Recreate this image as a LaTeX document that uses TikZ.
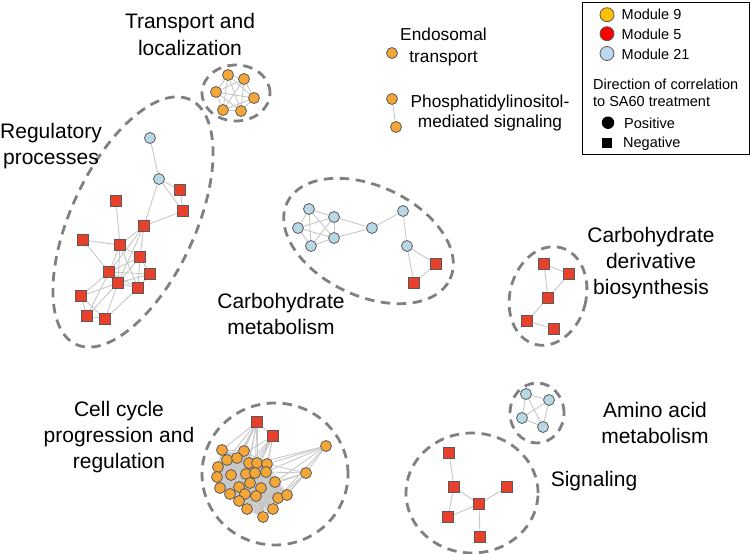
\documentclass[tikz,border=0pt]{standalone}
\usepackage{fontspec}
\setmainfont{Liberation Sans}
\usetikzlibrary{backgrounds}
\definecolor{cOr}{HTML}{F4A637}
\definecolor{cRd}{HTML}{E8402A}
\definecolor{cBl}{HTML}{B8D8E6}
\definecolor{cOl}{HTML}{595959}
\definecolor{cEd}{HTML}{C8C8C8}
\definecolor{cDash}{HTML}{808080}
\definecolor{cM9}{HTML}{FFC000}
\definecolor{cM5}{HTML}{FF0000}
\definecolor{cM21}{HTML}{BDD7EE}
\begin{document}
\begin{tikzpicture}[x=1pt,y=-1pt,
  orn/.style={circle,draw=cOl,fill=cOr,line width=0.8pt,inner sep=0pt,minimum size=11pt},
  blu/.style={circle,draw=cOl,fill=cBl,line width=0.8pt,inner sep=0pt,minimum size=11pt},
  sqr/.style={rectangle,draw=cOl,fill=cRd,line width=0.8pt,inner sep=0pt,minimum size=10.5pt},
  lnk/.style={draw=cEd,line width=0.9pt},
  grp/.style={draw=cDash,line width=2.8pt,dash pattern=on 9.5pt off 6.5pt},
  lbl/.style={font=\fontsize{21}{26}\selectfont,inner sep=0pt,anchor=base},
  leg/.style={font=\fontsize{14.5}{18}\selectfont,inner sep=0pt,anchor=base west},
  sml/.style={font=\fontsize{17.3}{21}\selectfont,inner sep=0pt,anchor=base},
]
\useasboundingbox (0,0) rectangle (750,554);

% ---------- group outlines ----------
\draw[grp] (236,93) ellipse [x radius=34pt, y radius=28pt];
\draw[grp, rotate around={-25:(133,222)}] (133,222) ellipse [x radius=62pt, y radius=135pt];
\draw[grp, rotate around={-25:(368.5,241)}] (368.5,241) ellipse [x radius=90pt, y radius=55pt];
\draw[grp, rotate around={-15:(548,296)}] (548,296) ellipse [x radius=38pt, y radius=50pt];
\draw[grp] (537,413) ellipse [x radius=27pt, y radius=30pt];
\draw[grp] (472,493) ellipse [x radius=66pt, y radius=60pt];
\draw[grp] (275,474) ellipse [x radius=73pt, y radius=71pt];

% ---------- transport and localization ----------
\node[orn] (t1) at (228,75) {};
\node[orn] (t2) at (244,79) {};
\node[orn] (t3) at (216,92) {};
\node[orn] (t4) at (254,98) {};
\node[orn] (t5) at (223,110) {};
\node[orn] (t6) at (241,111) {};

% ---------- endosomal / phosphatidylinositol ----------
\node[orn] (e1) at (392,53) {};
\node[orn] (p1) at (392,99) {};
\node[orn] (p2) at (396,127) {};

% ---------- regulatory processes ----------
\node[blu] (g1) at (150,138) {};
\node[blu] (g2) at (159,179) {};
\node[sqr] (g3) at (180,190) {};
\node[sqr] (g4) at (183,211) {};
\node[sqr] (g5) at (116,201) {};
\node[sqr] (g6) at (144,226) {};
\node[sqr] (g7) at (83,240) {};
\node[sqr] (g8) at (120,245) {};
\node[sqr] (g9) at (140,257) {};
\node[sqr] (g10) at (109,272) {};
\node[sqr] (g11) at (150,274) {};
\node[sqr] (g12) at (118,283) {};
\node[sqr] (g13) at (138,288) {};
\node[sqr] (g14) at (81,296) {};
\node[sqr] (g15) at (87,316) {};
\node[sqr] (g16) at (105,319) {};

% ---------- carbohydrate metabolism ----------
\node[blu] (m1) at (309,209) {};
\node[blu] (m2) at (334,217) {};
\node[blu] (m3) at (298,228) {};
\node[blu] (m4) at (334,238) {};
\node[blu] (m5) at (311,246) {};
\node[blu] (m6) at (372,228) {};
\node[blu] (m7) at (403,211) {};
\node[blu] (m8) at (407,246) {};
\node[sqr] (m9) at (436,264) {};
\node[sqr] (m10) at (414,283) {};

% ---------- carbohydrate derivative biosynthesis ----------
\node[sqr] (d1) at (544,264) {};
\node[sqr] (d2) at (569,274) {};
\node[sqr] (d3) at (548,298) {};
\node[sqr] (d4) at (527,321) {};
\node[sqr] (d5) at (554,329) {};

% ---------- amino acid metabolism ----------
\node[blu] (a1) at (526,394) {};
\node[blu] (a2) at (549,400) {};
\node[blu] (a3) at (522,418) {};
\node[blu] (a4) at (543,427) {};

% ---------- signaling ----------
\node[sqr] (s1) at (449,453) {};
\node[sqr] (s2) at (454,487) {};
\node[sqr] (s3) at (507,487) {};
\node[sqr] (s4) at (479,504) {};
\node[sqr] (s5) at (448,517) {};
\node[sqr] (s6) at (480,537) {};

% ---------- cell cycle ----------
\foreach \n/\p in {1/{(222,450)},2/{(244,451)},3/{(227,460)},4/{(237,458)},5/{(249,463)},
  6/{(257,463)},7/{(267,464)},8/{(218,467)},9/{(231,475)},10/{(246,474)},11/{(255,473)},
  12/{(266,472)},13/{(217,477)},14/{(250,483)},15/{(275,482)},16/{(220,488)},17/{(239,487)},
  18/{(261,488)},19/{(230,494)},20/{(245,494)},21/{(256,496)},22/{(278,498)},23/{(287,495)},
  24/{(239,501)},25/{(247,509)},26/{(273,509)},27/{(263,517)}}
  \node[orn] (c\n) at \p {};
\node[orn] (o1) at (326,446) {};
\node[orn] (o2) at (306,473) {};
\node[sqr] (r1) at (257,422) {};
\node[sqr] (r2) at (273,436) {};

% ---------- connectors ----------
\begin{scope}[on background layer]
  \foreach \i in {1,...,6}{\foreach \j in {1,...,6}{\ifnum\j>\i \draw[lnk] (t\i) -- (t\j);\fi}}
  \draw[lnk] (p1) -- (p2);
  \foreach \a/\b in {g1/g2,g2/g3,g2/g4,g2/g6,g3/g4,g4/g6,g5/g8,g7/g8,g8/g6,g6/g9,g6/g10,g6/g12,
     g8/g10,g8/g12,g8/g13,g8/g9,g9/g10,g9/g11,g9/g12,g9/g13,g10/g12,g10/g13,g10/g14,g10/g15,
     g10/g11,g11/g12,g11/g13,g12/g13,g12/g14,g12/g16,g12/g15,g14/g15,g14/g16,g15/g16,g13/g16,g7/g10}
     \draw[lnk] (\a) -- (\b);
  \foreach \a/\b in {m1/m2,m1/m3,m1/m4,m1/m5,m2/m3,m2/m4,m2/m5,m3/m4,m3/m5,m4/m5,
     m2/m6,m4/m6,m6/m7,m7/m8,m8/m9,m8/m10,m9/m10}
     \draw[lnk] (\a) -- (\b);
  \foreach \a/\b in {d1/d2,d1/d3,d2/d3,d3/d4,d4/d5}
     \draw[lnk] (\a) -- (\b);
  \foreach \a/\b in {a1/a2,a1/a3,a1/a4,a2/a3,a2/a4,a3/a4}
     \draw[lnk] (\a) -- (\b);
  \foreach \a/\b in {s1/s2,s2/s4,s2/s5,s5/s4,s4/s3,s4/s6}
     \draw[lnk] (\a) -- (\b);
  \foreach \i in {1,...,27}{\foreach \j in {1,...,27}{\ifnum\j>\i \draw[lnk] (c\i) -- (c\j);\fi}}
  \foreach \a/\b in {r1/r2,r1/c1,r1/c2,r1/c3,r1/c4,r1/c5,r1/c6,r1/c9,r1/c10,r1/c11,
     r2/c4,r2/c5,r2/c6,r2/c7,r2/c10,r2/c11,r2/c12,r2/c14,
     o1/o2,o1/c6,o1/c7,o1/c12,o1/c15,o1/c22,
     o2/c15,o2/c18,o2/c22,o2/c23,o2/c12,o2/c7,o2/c26}
     \draw[lnk] (\a) -- (\b);
\end{scope}

% ---------- labels ----------
\node[lbl] (lt1) at (190,28) {Transport and};
\node[lbl] (lt2) at (190,55) {localization};
\node[lbl] (lr1) at (51,138) {Regulatory};
\node[lbl] (lr2) at (51,164) {processes};
\node[lbl] (lm1) at (281,308) {Carbohydrate};
\node[lbl] (lm2) at (281,334) {metabolism};
\node[lbl] (lc1) at (119,416) {Cell cycle};
\node[lbl] (lc2) at (119,442) {progression and};
\node[lbl] (lc3) at (119,468) {regulation};
\node[lbl] (ld1) at (651,242) {Carbohydrate};
\node[lbl] (ld2) at (651,268) {derivative};
\node[lbl] (ld3) at (651,294) {biosynthesis};
\node[lbl] (la1) at (655,417) {Amino acid};
\node[lbl] (la2) at (655,443) {metabolism};
\node[lbl] (ls1) at (594,486) {Signaling};
\node[sml] (le1) at (443.5,40) {Endosomal};
\node[sml] (le2) at (443.5,62.5) {transport};
\node[sml] (lp1) at (490,107) {Phosphatidylinositol-};
\node[sml] (lp2) at (490,127) {mediated signaling};

% ---------- legend ----------
\node[draw=black,line width=1.4pt,inner sep=0pt,minimum width=167pt,minimum height=152pt,anchor=north west] (legbox) at (582,2) {};
\node[circle,draw=cOl,fill=cM9,line width=0.8pt,inner sep=0pt,minimum size=14pt] (k9) at (607,14.7) {};
\node[circle,draw=cOl,fill=cM5,line width=0.8pt,inner sep=0pt,minimum size=14pt] (k5) at (607,33.7) {};
\node[circle,draw=cOl,fill=cM21,line width=0.8pt,inner sep=0pt,minimum size=14pt] (k21) at (607,53.5) {};
\node[leg] (t9) at (621.5,19.5) {Module 9};
\node[leg] (t5) at (621.5,39) {Module 5};
\node[leg] (t21) at (621.5,59) {Module 21};
\node[leg] (tdir1) at (593,89) {Direction of correlation};
\node[leg] (tdir2) at (593,106) {to SA60 treatment};
\node[circle,fill=black,inner sep=0pt,minimum size=12.5pt] (kp) at (608,122.7) {};
\node[rectangle,fill=black,inner sep=0pt,minimum size=10pt] (kn) at (607,143) {};
\node[leg] (tp) at (624,128) {Positive};
\node[leg] (tn) at (623,147.5) {Negative};
\end{tikzpicture}
\end{document}
